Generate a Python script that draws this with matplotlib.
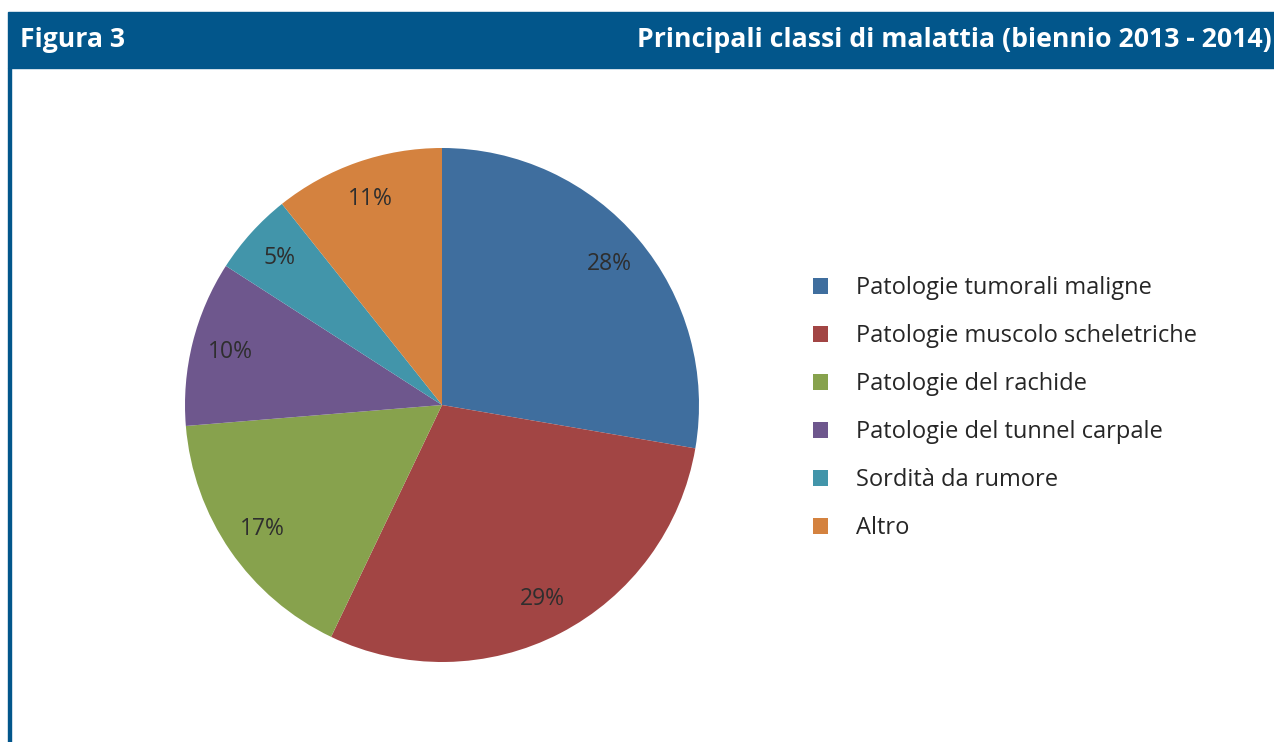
import matplotlib.pyplot as plt
from matplotlib.patches import Rectangle

plt.rcParams['font.family'] = ['Open Sans', 'DejaVu Sans']

## Data
categorie = ['Patologie tumorali maligne', 'Patologie muscolo scheletriche',
             'Patologie del rachide', 'Patologie del tunnel carpale',
             'Sordità da rumore', 'Altro']
quote = [27.7, 29.4, 16.6, 10.4, 5.2, 10.7]
colori = ['#3F6E9E', '#A24544', '#87A24D', '#6E578D', '#4295AA', '#D4823F']

W, H = 1274, 742
fig = plt.figure(figsize=(W / 100, H / 100), dpi=100)

# header bar + left border
blu = '#02568B'
fig.patches.append(Rectangle((8 / W, 1 - 68 / H), 1 - 8 / W, 56 / H,
                             transform=fig.transFigure, color=blu, zorder=0))
fig.patches.append(Rectangle((8 / W, 0), 2.5 / W, 1 - 68 / H,
                             transform=fig.transFigure, color=blu, zorder=0))
fig.text(20 / W, 1 - 40 / H, 'Figura 3', color='white', fontsize=19.2,
         fontweight='bold', va='center', ha='left')
fig.text(1272 / W, 1 - 40 / H, 'Principali classi di malattia (biennio 2013 - 2014)',
         color='white', fontsize=19.2, fontweight='bold', va='center', ha='right')

# pie
cx, cy, r = 442, 405, 257
ax = fig.add_axes([(cx - r) / W, (H - cy - r) / H, 2 * r / W, 2 * r / H])
wedges, texts, autotexts = ax.pie(quote, colors=colori, startangle=90, counterclock=False,
                                  autopct='%.0f%%', pctdistance=0.85,
                                  wedgeprops=dict(linewidth=0),
                                  textprops=dict(fontsize=16.5, color='#2E2E2E'))
ax.set_xlim(-1, 1)
ax.set_ylim(-1, 1)
ax.set_aspect('equal')
ax.axis('off')

# legend
fig.legend(wedges, categorie, loc='upper left', bbox_to_anchor=(813 / W, 1 - 276 / H),
           frameon=False, fontsize=17, handlelength=0.65, handleheight=0.65,
           handletextpad=1.15, labelspacing=1.02, borderpad=0, borderaxespad=0,
           labelcolor='#262626')

fig.savefig('out.png', dpi=100)
